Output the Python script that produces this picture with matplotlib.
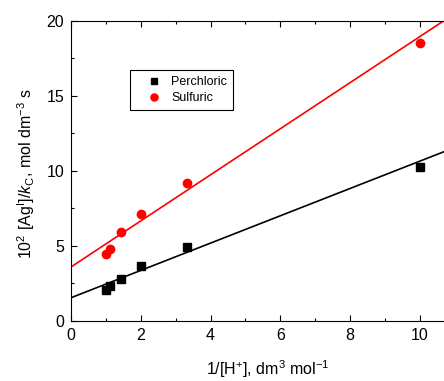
import numpy as np
import matplotlib
matplotlib.use('Agg')
import matplotlib.pyplot as plt
from matplotlib.ticker import MultipleLocator

plt.rcParams['font.family'] = ['Liberation Sans', 'DejaVu Sans']
plt.rcParams['mathtext.fontset'] = 'custom'
plt.rcParams['mathtext.rm'] = 'Liberation Sans'
plt.rcParams['mathtext.it'] = 'Liberation Sans:italic'

# data
inv_h = [1.0, 1.11, 1.43, 2.0, 3.33, 10.0]
perchloric = [2.06, 2.35, 2.8, 3.66, 4.9, 10.23]
sulfuric = [4.44, 4.81, 5.9, 7.12, 9.2, 18.55]

# straight line fits (intercept, slope)
fit_perchloric = (1.55, 0.91)
fit_sulfuric = (3.6, 1.535)

fig = plt.figure(figsize=(4.44, 3.81), dpi=100)
ax = fig.add_axes([0.16, 0.1575, 0.84, 0.788])

xx = np.array([0, 10.7])
ax.plot(xx, fit_perchloric[0] + fit_perchloric[1] * xx, color='black', lw=1.2)
ax.plot(xx, fit_sulfuric[0] + fit_sulfuric[1] * xx, color='red', lw=1.2)
ax.plot(inv_h, perchloric, 's', color='black', ms=5.5, label='Perchloric', linestyle='none')
ax.plot(inv_h, sulfuric, 'o', color='red', ms=6, label='Sulfuric', linestyle='none')

ax.set_xlim(0, 10.69)
ax.set_ylim(0, 20)
ax.xaxis.set_major_locator(MultipleLocator(2))
ax.xaxis.set_minor_locator(MultipleLocator(1))
ax.yaxis.set_major_locator(MultipleLocator(5))
ax.yaxis.set_minor_locator(MultipleLocator(2.5))
ax.tick_params(which='both', direction='in', top=True, right=False, labelsize=11.5, width=0.8)
ax.tick_params(which='major', length=4, pad=5)
ax.tick_params(which='minor', length=2.5)
ax.spines['right'].set_visible(False)
for s in ['left', 'top', 'bottom']:
    ax.spines[s].set_linewidth(0.8)

ax.set_xlabel(r'1/[H$^{+}$], dm$^{3}$ mol$^{-1}$', fontsize=11.5)
ax.xaxis.set_label_coords(0.528, -0.125)
ax.set_ylabel(r'10$^{2}$ [Ag$^{\mathrm{I}}$]/$k_{\mathrm{C}}$, mol dm$^{-3}$ s', fontsize=11.5)
ax.yaxis.set_label_coords(-0.09, 0.49)

leg = ax.legend(loc='upper left', bbox_to_anchor=(0.158, 0.836), borderaxespad=0,
                fancybox=False, edgecolor='black', fontsize=9, handlelength=2.9,
                handletextpad=-0.1, borderpad=0.5, labelspacing=0.3, framealpha=1,
                markerscale=0.85)
leg.get_frame().set_linewidth(0.8)

fig.savefig('out.png', dpi=100)
